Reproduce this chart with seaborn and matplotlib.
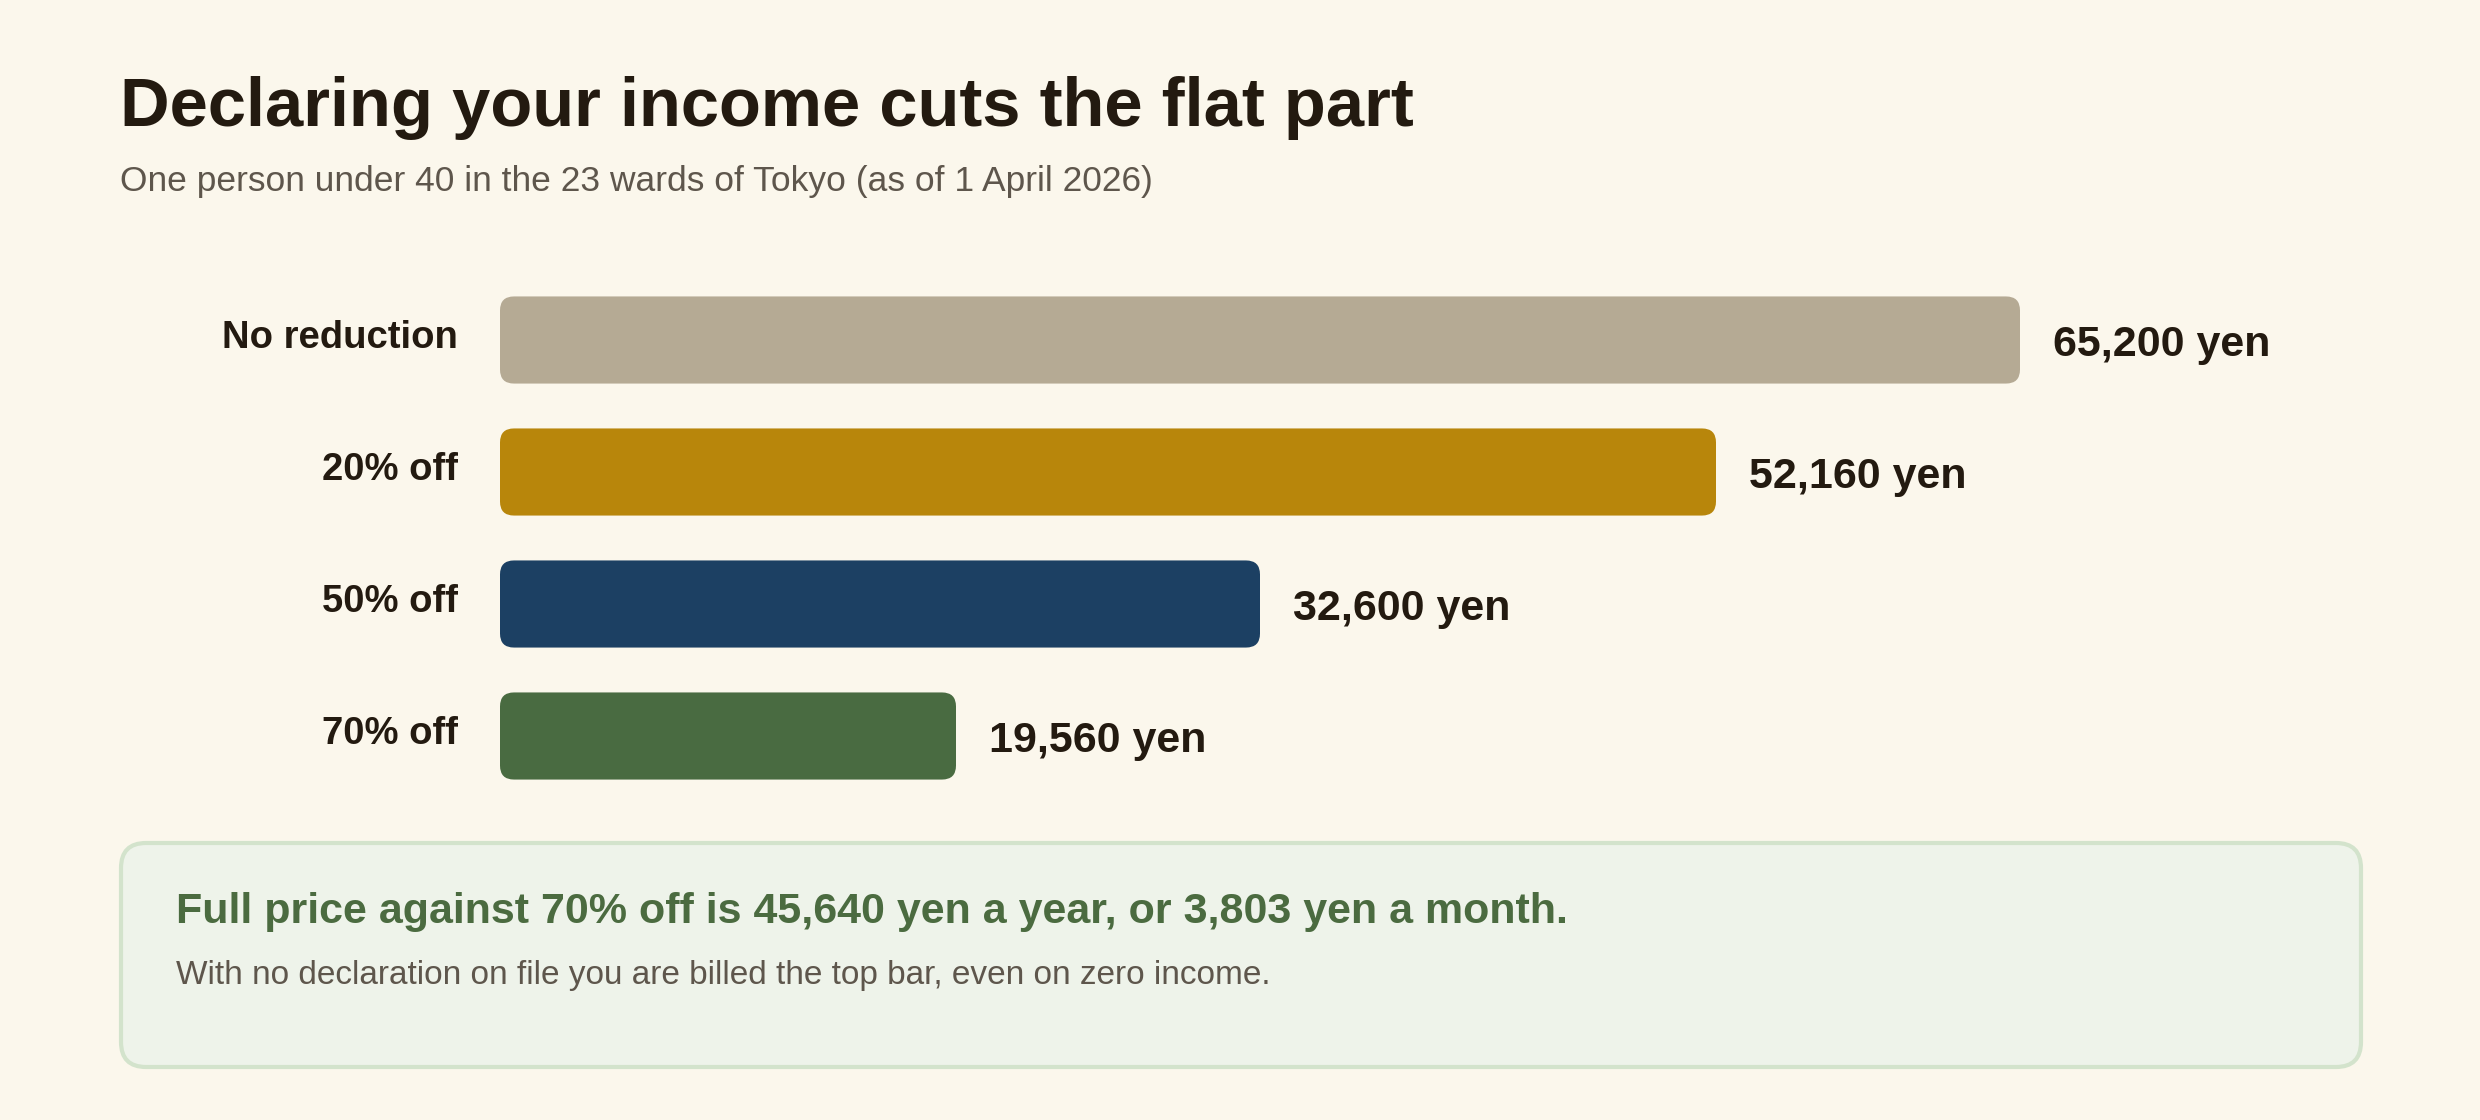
import matplotlib
matplotlib.use("Agg")
import matplotlib.pyplot as plt
import seaborn as sns
import pandas as pd
from matplotlib.patches import FancyBboxPatch

# data
categories = ["No reduction", "20% off", "50% off", "70% off"]
amounts = [65200, 52160, 32600, 19560]
bar_colors = ["#b5aa94", "#b8860b", "#1c4063", "#496b41"]

title = "Declaring your income cuts the flat part"
subtitle = "One person under 40 in the 23 wards of Tokyo (as of 1 April 2026)"
note_head = "Full price against 70% off is 45,640 yen a year, or 3,803 yen a month."
note_body = "With no declaration on file you are billed the top bar, even on zero income."

BG = "#fbf7ec"
INK = "#231a10"
MUTED = "#5e564c"

sns.set_theme(style="white")
plt.rcParams["font.family"] = ["Liberation Sans", "DejaVu Sans"]

W, H, DPI = 2480, 1120, 100
fig = plt.figure(figsize=(W / DPI, H / DPI), dpi=DPI, facecolor=BG)

def fx(px):
    return px / W

def fy(px):
    return 1 - px / H

# axes placed so 0 yen sits at x=500px and 65,200 yen at x=2020px
x_max = 80000
px_per_yen = (2020 - 500) / 65200
ax_w = x_max * px_per_yen
ax_top, ax_bot = 274, 802
ax = fig.add_axes([fx(500), fy(ax_bot), ax_w / W, (ax_bot - ax_top) / H])
ax.set_facecolor("none")

df = pd.DataFrame({"category": categories, "amount": amounts})
sns.barplot(data=df, x="amount", y="category", hue="category", palette=bar_colors,
            orient="h", width=0.66, legend=False, ax=ax, saturation=1)
ax.set_xlim(0, x_max)
ax.set_ylim(len(categories) - 0.5, -0.5)
ax.set_axis_off()

# swap the plain bars for rounded ones
fig.canvas.draw()
(x0p, y0p), (x1p, y1p) = ax.transData.transform([(0, 0), (1000, 1)])
xu_per_px = 1000 / abs(x1p - x0p)
yu_per_px = 1 / abs(y1p - y0p)
radius_px = 14
for p in list(ax.patches):
    bx, by, bw, bh = p.get_x(), p.get_y(), p.get_width(), p.get_height()
    fb = FancyBboxPatch((bx, by), bw, bh,
                        boxstyle=f"round,pad=0,rounding_size={radius_px * xu_per_px}",
                        mutation_aspect=yu_per_px / xu_per_px,
                        facecolor=p.get_facecolor(), edgecolor="none")
    p.remove()
    ax.add_patch(fb)

for i, (cat, val) in enumerate(zip(categories, amounts)):
    ax.annotate(cat, xy=(0, i), xytext=(-42, -8), textcoords="offset pixels",
                ha="right", va="baseline", fontsize=27.5, fontweight="bold", color=INK)
    ax.annotate(f"{val:,} yen", xy=(val, i), xytext=(33, -16), textcoords="offset pixels",
                ha="left", va="baseline", fontsize=31, fontweight="bold", color=INK)

# header
fig.text(fx(120), fy(126), title, fontsize=49.5, fontweight="bold", color=INK, va="baseline")
fig.text(fx(120), fy(191), subtitle, fontsize=25.5, color=MUTED, va="baseline")

# note box
box = FancyBboxPatch((fx(121), fy(1067)), fx(2361 - 121), (1067 - 843) / H,
                     boxstyle="round,pad=0,rounding_size=0.0101",
                     mutation_aspect=W / H,
                     transform=fig.transFigure, facecolor="#eef3ea",
                     edgecolor="#d3e3cc", linewidth=3)
fig.patches.append(box)
fig.text(fx(176), fy(923), note_head, fontsize=31, fontweight="bold", color="#4b6b40", va="baseline")
fig.text(fx(176), fy(984), note_body, fontsize=24, color=MUTED, va="baseline")

fig.savefig("out.png", dpi=DPI, facecolor=BG)
